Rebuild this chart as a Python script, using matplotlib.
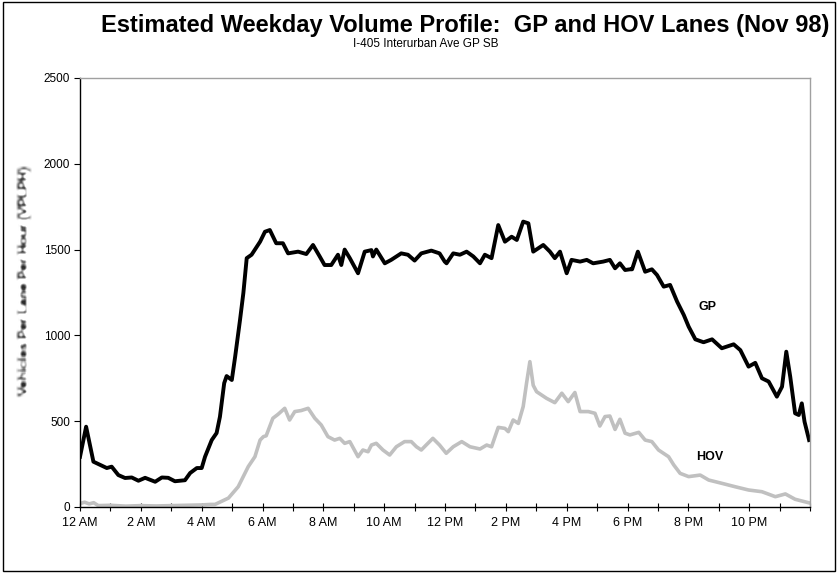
import matplotlib
matplotlib.use("Agg")
import matplotlib.pyplot as plt
import numpy as np
from matplotlib.patches import Rectangle

plt.rcParams['font.family'] = ['Liberation Sans', 'DejaVu Sans']

# hour of day (0-24) and vehicles per lane per hour
gp_hours = [0, 0.2, 0.44, 0.88, 1.04, 1.26, 1.48, 1.7, 1.92, 2.14, 2.47, 2.69,
            2.9, 3.12, 3.45, 3.62, 3.84, 4.0, 4.11, 4.33, 4.49, 4.6, 4.74, 4.82,
            4.99, 5.1, 5.26, 5.37, 5.48, 5.64, 5.92, 6.08, 6.24, 6.45, 6.67, 6.84,
            7.17, 7.44, 7.66, 7.88, 8.04, 8.26, 8.48, 8.59, 8.7, 8.87, 9.14, 9.36,
            9.58, 9.63, 9.74, 10.02, 10.23, 10.56, 10.78, 11.0, 11.22, 11.55, 11.82,
            11.99, 12.05, 12.27, 12.49, 12.71, 12.93, 13.15, 13.31, 13.53, 13.75,
            13.97, 14.19, 14.36, 14.57, 14.74, 14.9, 15.23, 15.45, 15.61, 15.78,
            16.0, 16.16, 16.44, 16.66, 16.87, 17.2, 17.42, 17.59, 17.75, 17.92,
            18.08, 18.15, 18.34, 18.58, 18.8, 18.97, 19.19, 19.4, 19.63, 19.85,
            20.01, 20.23, 20.5, 20.78, 21.1, 21.49, 21.71, 21.98, 22.2, 22.42,
            22.64, 22.91, 23.08, 23.22, 23.35, 23.51, 23.63, 23.73, 23.82, 23.97]
gp_vplph = [293, 468, 264, 227, 235, 186, 169, 172, 153, 170, 147, 172,
            170, 150, 156, 198, 227, 227, 293, 390, 431, 526, 722, 763,
            740, 876, 1090, 1247, 1450, 1470, 1546, 1604, 1614, 1537, 1537, 1478,
            1488, 1474, 1527, 1460, 1410, 1410, 1470, 1410, 1500, 1450, 1362, 1488,
            1497, 1460, 1500, 1420, 1440, 1478, 1470, 1436, 1478, 1494, 1478,
            1430, 1420, 1478, 1470, 1488, 1460, 1420, 1470, 1450, 1643,
            1546, 1575, 1556, 1663, 1653, 1488, 1527, 1488, 1450, 1488,
            1362, 1440, 1430, 1440, 1420, 1430, 1440, 1391, 1420, 1381,
            1385, 1385, 1488, 1371, 1385, 1352, 1284, 1294, 1197, 1119,
            1051, 977, 960, 977, 925, 948, 914, 818, 840, 750,
            731, 643, 701, 905, 759, 546, 536, 604, 497, 390]

hov_hours = [0, 0.15, 0.3, 0.45, 0.6, 1.0, 1.5, 2.0, 2.5, 3.0, 3.5, 4.0, 4.3,
             4.44, 4.88, 5.2, 5.53, 5.75, 5.92, 6.03, 6.12, 6.34, 6.51, 6.73,
             6.89, 7.06, 7.27, 7.5, 7.72, 7.93, 8.15, 8.37, 8.54, 8.7, 8.87, 9.14,
             9.3, 9.47, 9.58, 9.74, 9.96, 10.18, 10.4, 10.67, 10.89, 11.06, 11.22,
             11.38, 11.6, 11.82, 12.04, 12.27, 12.55, 12.82, 13.15, 13.37, 13.53,
             13.75, 13.97, 14.08, 14.24, 14.41, 14.57, 14.68, 14.79, 14.9, 15.01,
             15.34, 15.61, 15.84, 16.05, 16.27, 16.44, 16.71, 16.93, 17.09, 17.26,
             17.42, 17.59, 17.75, 17.92, 18.08, 18.37, 18.58, 18.8, 19.02, 19.35,
             19.52, 19.73, 20.01, 20.39, 20.67, 21.1, 21.54, 21.98, 22.42, 22.86,
             23.19, 23.51, 23.95]
hov_vplph = [20, 28, 18, 25, 8, 10, 5, 8, 6, 8, 10, 12, 15,
             15, 52, 118, 235, 293, 390, 410, 415, 517, 540, 575,
             507, 556, 562, 575, 517, 478, 410, 390, 400, 371, 381, 293,
             332, 322, 361, 371, 332, 303, 351, 381, 381, 351, 332,
             361, 400, 361, 313, 351, 381, 351, 338, 361, 351,
             464, 458, 439, 507, 487, 585, 721, 847, 709, 672,
             633, 608, 663, 614, 667, 556, 556, 546, 472, 527,
             530, 452, 511, 430, 420, 435, 390, 381, 332, 293,
             245, 196, 177, 186, 157, 138, 118, 99, 89, 60,
             76, 45, 25]

hour_ticks = list(range(0, 25))
hour_labels = ['12 AM', '', '2 AM', '', '4 AM', '', '6 AM', '', '8 AM', '',
               '10 AM', '', '12 PM', '', '2 PM', '', '4 PM', '', '6 PM', '',
               '8 PM', '', '10 PM', '', '']
y_ticks = [0, 500, 1000, 1500, 2000, 2500]


def soften(im, dpi):
    # box blur run twice for the axis title, then darkened a little
    pad = 4
    a = np.pad(im, ((pad, pad), (pad, pad), (0, 0)))
    for _ in range(2):
        out = np.zeros_like(a)
        for dy in range(-1, 2):
            for dx in range(-1, 2):
                out += np.roll(np.roll(a, dy, axis=0), dx, axis=1)
        a = out / 9
    a = np.clip(a * 1.7, 0, 1)
    return a, -pad, -pad


fig = plt.figure(figsize=(8.38, 5.73), dpi=100)
ax = fig.add_axes([0.0955, 0.1152, 0.8711, 0.7487])

ax.plot(hov_hours, hov_vplph, color='#c0c0c0', linewidth=2.6, solid_joinstyle='round')
ax.plot(gp_hours, gp_vplph, color='black', linewidth=2.8, solid_joinstyle='round')

ax.set_xlim(0, 24)
ax.set_ylim(0, 2500)
ax.set_xticks(hour_ticks)
ax.set_xticklabels(hour_labels, fontsize=9)
ax.set_yticks(y_ticks)
ax.set_yticklabels([str(v) for v in y_ticks], fontsize=8.5)
ax.tick_params(axis='x', direction='inout', length=6, width=0.8, pad=4)
ax.tick_params(axis='y', direction='out', length=4, width=0.8, pad=3)

for side in ['top', 'right']:
    ax.spines[side].set_color('#a0a0a0')
    ax.spines[side].set_linewidth(1.0)
for side in ['left', 'bottom']:
    ax.spines[side].set_color('black')
    ax.spines[side].set_linewidth(1.0)

ax.text(20.32, 1166, 'GP', fontsize=9, fontweight='bold', va='center')
ax.text(20.25, 291, 'HOV', fontsize=9, fontweight='bold', va='center')

fig.text(0.555, 0.955, 'Estimated Weekday Volume Profile:  GP and HOV Lanes (Nov 98)',
         ha='center', va='center', fontsize=17, fontweight='bold')
fig.text(0.508, 0.923, 'I-405 Interurban Ave GP SB', ha='center', va='center', fontsize=8.5)

ylab = fig.text(0.030, 0.51, 'Vehicles Per Lane Per Hour (VPLPH)', rotation=90,
                ha='center', va='center', fontsize=9.5, fontweight='bold', color='#1a1a1a')
ylab.set_agg_filter(soften)

fig.patches.append(Rectangle((0.003, 0.003), 0.994, 0.994, transform=fig.transFigure,
                             fill=False, edgecolor='black', linewidth=1.0))

fig.savefig('out.png', dpi=100)
